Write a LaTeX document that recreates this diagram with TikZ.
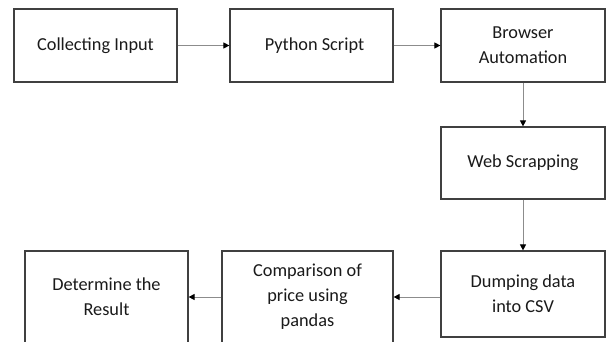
\documentclass[tikz,border=0pt]{standalone}
\usepackage{fontspec}
\setmainfont{Carlito}
\usetikzlibrary{arrows.meta}
\definecolor{boxline}{HTML}{404040}
\definecolor{conn}{HTML}{8C8C8C}
\definecolor{txt}{HTML}{1A1A1A}
\begin{document}
\begin{tikzpicture}[x=1pt,y=-1pt,
  box/.style={draw=boxline, line width=1.2pt, fill=white, inner sep=0pt,
    align=center, text=txt, font=\fontsize{18.3}{25}\selectfont},
  conn/.style={draw=conn, line width=1pt, -{Triangle[length=6pt,width=6pt,color=black]}}]
\useasboundingbox (0,0) rectangle (608,341);
\clip (0,0) rectangle (608,341);
\fill[white] (0,0) rectangle (608,341);
\node[box, minimum width=163pt, minimum height=73pt] (b1) at (95.5,45.5) {Collecting Input};
\node[box, minimum width=163pt, minimum height=73pt] (b2) at (311.5,45.5) {\hspace*{6pt}Python Script};
\node[box, minimum width=164pt, minimum height=73pt] (b3) at (523,45.5) {Browser\\Automation};
\node[box, minimum width=164pt, minimum height=72pt] (web) at (523,163) {Web Scrapping};
\node[box, minimum width=164pt, minimum height=86pt] (dump) at (523,294) {Dumping data\\into CSV};
\node[box, minimum width=171pt, minimum height=92pt] (comp) at (307.5,297) {Comparison of\\price using\\pandas};
\node[box, minimum width=163pt, minimum height=92pt] (det) at (106.5,297) {Determine the\\Result};
\draw[conn] (b1) -- (b2);
\draw[conn] (b2) -- (b3);
\draw[conn] (b3) -- (web);
\draw[conn] (web) -- (dump);
\draw[conn] (dump.west |- comp.east) -- (comp.east);
\draw[conn] (comp) -- (det);
\end{tikzpicture}
\end{document}
